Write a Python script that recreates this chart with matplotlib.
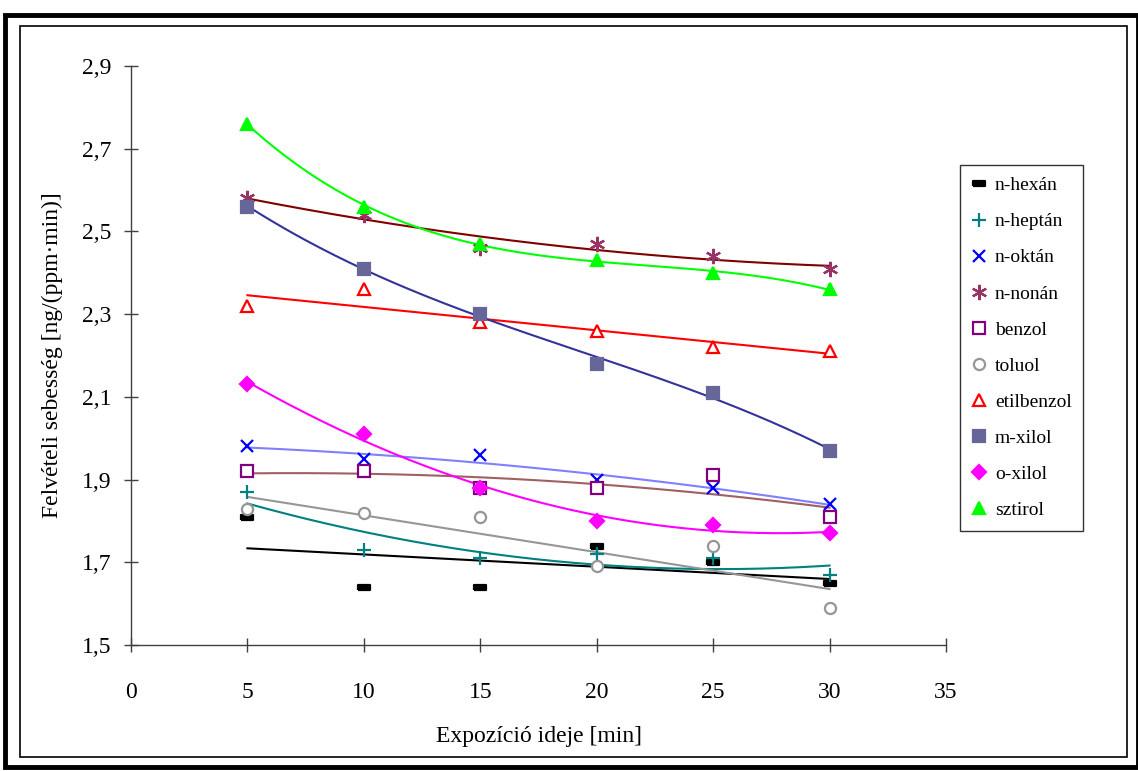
import numpy as np
import matplotlib.pyplot as plt
from matplotlib.patches import Rectangle
from matplotlib.ticker import FuncFormatter

plt.rcParams['font.family'] = ['Liberation Serif', 'DejaVu Serif']

# expozíciós idők [min]
ido = [5, 10, 15, 20, 25, 30]

# felvételi sebességek [ng/(ppm·min)], leolvasva
n_hexan = [1.81, 1.64, 1.64, 1.74, 1.70, 1.65]
n_heptan = [1.87, 1.73, 1.71, 1.72, 1.71, 1.67]
n_oktan = [1.98, 1.95, 1.96, 1.90, 1.88, 1.84]
n_nonan = [2.58, 2.54, 2.46, 2.47, 2.44, 2.41]
benzol = [1.92, 1.92, 1.88, 1.88, 1.91, 1.81]
toluol = [1.83, 1.82, 1.81, 1.69, 1.74, 1.59]
etilbenzol = [2.32, 2.36, 2.28, 2.26, 2.22, 2.21]
m_xilol = [2.56, 2.41, 2.30, 2.18, 2.11, 1.97]
o_xilol = [2.13, 2.01, 1.88, 1.80, 1.79, 1.77]
sztirol = [2.76, 2.56, 2.47, 2.43, 2.40, 2.36]

nevek = ['n-hexán', 'n-heptán', 'n-oktán', 'n-nonán', 'benzol',
         'toluol', 'etilbenzol', 'm-xilol', 'o-xilol', 'sztirol']
adatok = [n_hexan, n_heptan, n_oktan, n_nonan, benzol,
          toluol, etilbenzol, m_xilol, o_xilol, sztirol]
# trendvonal fokszáma (Excel-szerű polinom trend)
fokszam = [1, 2, 2, 2, 2, 1, 1, 3, 2, 3]

# kis téglalap marker az n-hexánhoz
dash = [(-1, -0.45), (1, -0.45), (1, 0.45), (-1, 0.45), (-1, -0.45)]

# (marker, marker szín, kitöltött?, méret, trendvonal szín)
stilus = [
    (dash, '#000000', True, 8, '#000000'),
    ('+', '#008080', True, 10, '#008080'),
    ('x', '#0000FF', True, 9, '#8080FF'),
    ((6, 2, 0), '#993366', True, 11, '#800000'),
    ('s', '#800080', False, 8, '#A06060'),
    ('o', '#969696', False, 8, '#969696'),
    ('^', '#FF0000', False, 8, '#FF0000'),
    ('s', '#666699', True, 9, '#333399'),
    ('D', '#FF00FF', True, 7, '#FF00FF'),
    ('^', '#00FF00', True, 9, '#00FF00'),
]

fig = plt.figure(figsize=(11.38, 7.71), dpi=100)
ax = fig.add_axes([131 / 1138, 1 - 645 / 771, (946 - 131) / 1138, (645 - 66) / 771])

xs = np.linspace(ido[0], ido[-1], 200)
for nev, y, deg, (mk, c, filled, ms, lc) in zip(nevek, adatok, fokszam, stilus):
    # trendvonal
    p = np.polyfit(ido, y, deg)
    ax.plot(xs, np.polyval(p, xs), color=lc, lw=1.5, zorder=2)
    # pontok
    if filled:
        ax.plot(ido, y, linestyle='none', marker=mk, ms=ms, color=c,
                mec=c, mew=1.6, label=nev, zorder=3)
    else:
        ax.plot(ido, y, linestyle='none', marker=mk, ms=ms, mfc='white',
                mec=c, mew=1.6, label=nev, zorder=3)

ax.set_xlim(0, 35)
ax.set_ylim(1.5, 2.9)
ax.set_xticks(range(0, 36, 5))
ax.set_yticks(np.arange(1.5, 2.91, 0.2))
ax.yaxis.set_major_formatter(FuncFormatter(lambda v, p: f'{v:.1f}'.replace('.', ',')))
for s in ['top', 'right']:
    ax.spines[s].set_visible(False)
for s in ['left', 'bottom']:
    ax.spines[s].set_color('#404040')
    ax.spines[s].set_linewidth(1.0)
ax.tick_params(direction='inout', length=10, width=1, color='#404040',
               labelsize=17, pad=9)
ax.tick_params(axis='x', pad=22)

ax.set_xlabel('Expozíció ideje [min]', fontsize=17, labelpad=16)
ax.set_ylabel('Felvételi sebesség [ng/(ppm·min)]', fontsize=17, labelpad=14)

leg = ax.legend(loc='upper left', bbox_to_anchor=(960 / 1138, 1 - 165 / 771),
                bbox_transform=fig.transFigure, borderaxespad=0, fontsize=14,
                frameon=True, fancybox=False, edgecolor='black',
                labelspacing=0.95, handlelength=0.8, handletextpad=0.4,
                borderpad=0.6, numpoints=1)
leg.get_frame().set_linewidth(1.0)

# külső keretek
fig.patches.append(Rectangle((5 / 1138, 4 / 771), 1 - 5 / 1138, 1 - 4 / 771 - 15 / 771,
                             transform=fig.transFigure, fill=False,
                             edgecolor='black', linewidth=3.5))
fig.patches.append(Rectangle((20 / 1138, 14 / 771), 1107 / 1138, 1 - 14 / 771 - 26 / 771,
                             transform=fig.transFigure, fill=False,
                             edgecolor='black', linewidth=1.2))

fig.savefig('out.png', dpi=100)
